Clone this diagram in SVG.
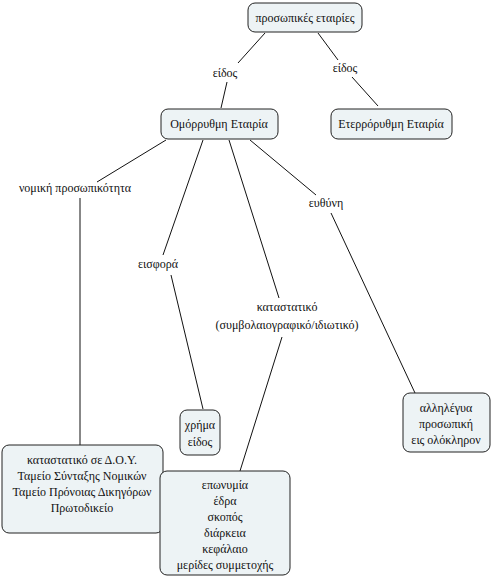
<svg xmlns="http://www.w3.org/2000/svg" width="493" height="578" viewBox="0 0 493 578" font-family="'Liberation Serif','DejaVu Serif',serif">
<style>
.box{fill:#edf3f5;stroke:#222;stroke-width:1}
text{font-family:'Liberation Serif','DejaVu Serif',serif;font-size:12px;fill:#111;text-anchor:middle}
.ln{stroke:#111;stroke-width:1;fill:none}
</style>
<rect width="493" height="578" fill="#fff"/>
<g id="connectors">
<path class="ln" d="M265,33 L238,63"/>
<path class="ln" d="M227,82 L221,108"/>
<path class="ln" d="M318,33 L338,60"/>
<path class="ln" d="M352,77 L378,106"/>
<path class="ln" d="M166,140 L97,182"/>
<path class="ln" d="M80,198 L80,445"/>
<path class="ln" d="M203,140 L163,255"/>
<path class="ln" d="M171,275 L203,409"/>
<path class="ln" d="M229,140 L279,298"/>
<path class="ln" d="M282,337 L240,471"/>
<path class="ln" d="M250,140 L316,195"/>
<path class="ln" d="M331,213 L415,393"/>
</g>
<g id="n1"><rect class="box" x="248" y="3" width="114" height="29" rx="7"/><text x="305" y="22">προσωπικές εταιρίες</text></g>
<g id="l1"><text x="225" y="77">είδος</text></g>
<g id="l2"><text x="345" y="72">είδος</text></g>
<g id="n2"><rect class="box" x="161" y="109" width="117" height="30" rx="7"/><text x="219" y="128">Ομόρρυθμη Εταιρία</text></g>
<g id="n3"><rect class="box" x="331" y="109" width="121" height="30" rx="7"/><text x="391" y="128">Ετερρόρυθμη Εταιρία</text></g>
<g id="l3"><text x="75" y="192">νομική προσωπικότητα</text></g>
<g id="l4"><text x="158" y="268">εισφορά</text></g>
<g id="l5"><text x="287" y="311">καταστατικό</text><text x="287" y="329">(συμβολαιογραφικό/ιδιωτικό)</text></g>
<g id="l6"><text x="326" y="207">ευθύνη</text></g>
<g id="n4"><rect class="box" x="180" y="410" width="40" height="45" rx="7"/><text x="200" y="429">χρήμα</text><text x="200" y="446">είδος</text></g>
<g id="n5"><rect class="box" x="403" y="393" width="87" height="59" rx="7"/><text x="446" y="412">αλληλέγυα</text><text x="446" y="428">προσωπική</text><text x="446" y="444">εις ολόκληρον</text></g>
<g id="n6"><rect class="box" x="2" y="445" width="161" height="88" rx="7"/><text x="82" y="464">καταστατικό σε Δ.Ο.Υ.</text><text x="82" y="480">Ταμείο Σύνταξης Νομικών</text><text x="82" y="496">Ταμείο Πρόνοιας Δικηγόρων</text><text x="82" y="512">Πρωτοδικείο</text></g>
<g id="n7"><rect class="box" x="160" y="471" width="130" height="104" rx="7"/><text x="225" y="489">επωνυμία</text><text x="225" y="505">έδρα</text><text x="225" y="521">σκοπός</text><text x="225" y="537">διάρκεια</text><text x="225" y="553">κεφάλαιο</text><text x="225" y="569">μερίδες συμμετοχής</text></g>
</svg>
